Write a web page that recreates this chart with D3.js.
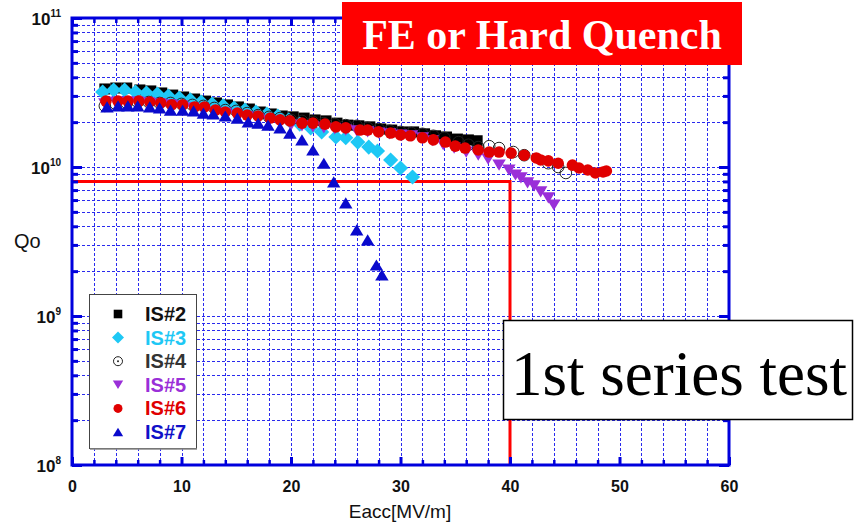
<!DOCTYPE html>
<html>
<head>
<meta charset="utf-8">
<script src="https://cdn.jsdelivr.net/npm/d3@7"></script>
<style>
  html, body { margin: 0; padding: 0; background: #fff; }
  svg { display: block; }
</style>
</head>
<body>
<svg id="chart" width="855" height="525"></svg>
<script>
// Qo values are stored in units of 1e10
const QUNIT = 1e10;

const seriesNames = ["IS#2", "IS#3", "IS#4", "IS#5", "IS#6", "IS#7"];

const e_IS2 = [3.0,4.0,5.0,6.2,7.2,8.2,9.2,10.2,11.2,12.2,13.2,14.2,15.2,16.2,17.2,18.2,19.2,20.2,21.2,22.2,23.2,24.2,25.2,26.2,27.2,28.2,29.2,30.2,31.2,32.2,33.2,34.2,35.2,36.2,37.0];
const q_IS2 = [3.34,3.39,3.39,3.29,3.24,3.14,3.04,2.95,2.86,2.77,2.69,2.61,2.53,2.45,2.34,2.27,2.20,2.17,2.13,2.07,2.04,1.97,1.91,1.89,1.86,1.80,1.77,1.72,1.72,1.67,1.62,1.59,1.54,1.52,1.50];

const e_IS3 = [2.8,3.8,4.8,5.8,6.8,7.8,8.8,9.8,10.8,11.8,12.8,13.8,14.8,15.8,16.8,17.8,18.8,19.8,20.8,21.8,22.8,24.1,25.0,26.1,27.1,27.9,29.1,30.0,31.1];
const q_IS3 = [3.19,3.29,3.29,3.19,3.14,3.09,2.99,2.90,2.82,2.73,2.65,2.57,2.49,2.41,2.34,2.27,2.20,2.07,1.94,1.83,1.72,1.59,1.57,1.47,1.36,1.28,1.115,0.985,0.857];

const e_IS4 = [3.0,4.0,5.0,6.0,7.0,8.0,9.0,10.0,11.0,12.0,13.0,14.0,15.0,16.0,17.0,18.0,19.0,20.0,21.0,22.0,23.0,24.0,25.0,26.0,27.0,28.0,29.0,30.0,31.0,32.0,33.0,34.0,35.3,36.2,37.1,38.1,39.0,40.3,41.3,43.5,44.4,45.1];
const q_IS4 = [2.57,2.65,2.69,2.73,2.73,2.69,2.69,2.65,2.61,2.57,2.49,2.41,2.38,2.30,2.23,2.17,2.13,2.07,2.04,2.01,1.97,1.94,1.91,1.89,1.83,1.80,1.75,1.72,1.69,1.67,1.62,1.57,1.47,1.41,1.36,1.38,1.34,1.26,1.20,1.06,1.00,0.912];

const e_IS5 = [3.0,4.0,5.0,6.0,7.0,8.0,9.0,10.0,11.0,12.0,13.0,14.0,15.0,16.0,17.0,18.0,19.0,20.0,21.0,22.0,23.0,24.0,25.0,26.0,27.0,28.0,29.0,30.0,31.0,32.0,32.9,33.9,34.9,36.0,37.1,38.0,39.0,39.9,40.5,41.0,41.6,42.2,42.8,43.5,44.0];
const q_IS5 = [2.65,2.73,2.73,2.73,2.69,2.65,2.61,2.57,2.49,2.41,2.34,2.30,2.23,2.17,2.10,2.04,1.97,1.91,1.89,1.86,1.83,1.80,1.77,1.75,1.72,1.69,1.67,1.64,1.62,1.57,1.50,1.41,1.34,1.26,1.20,1.13,1.03,0.955,0.884,0.844,0.782,0.746,0.680,0.620,0.556];

const e_IS6 = [3.1,4.2,5.1,6.1,7.1,8.1,9.1,10.1,11.2,12.1,13.1,14.0,15.1,16.0,17.0,18.1,19.0,19.9,21.0,22.0,23.1,24.1,25.0,26.3,27.0,28.0,29.1,30.0,30.9,32.0,33.0,34.1,35.0,35.9,37.1,38.1,39.0,40.1,41.3,42.4,42.8,43.5,44.4,45.7,46.3,47.1,47.8,48.5,48.8];
const q_IS6 = [2.77,2.77,2.77,2.77,2.73,2.69,2.61,2.61,2.53,2.53,2.41,2.34,2.30,2.23,2.20,2.13,2.07,2.04,1.97,1.97,1.94,1.86,1.83,1.77,1.77,1.72,1.69,1.64,1.62,1.57,1.52,1.47,1.38,1.34,1.30,1.26,1.26,1.24,1.20,1.15,1.115,1.10,1.06,1.03,0.985,0.955,0.912,0.926,0.940];

const e_IS7 = [3.2,4.2,5.1,6.0,7.1,8.0,9.0,10.1,11.1,12.0,12.9,14.0,15.1,16.1,17.0,17.9,19.0,19.9,21.0,22.0,23.0,23.9,25.0,26.0,27.0,27.8,28.3];
const q_IS7 = [2.53,2.57,2.57,2.57,2.53,2.49,2.41,2.41,2.38,2.30,2.27,2.20,2.13,2.01,1.97,1.91,1.83,1.69,1.52,1.30,1.06,0.794,0.574,0.378,0.324,0.220,0.189];

// Design target lines
const targetE = 40;
const targetQ = 8e9;

// Axis ticks
const xMajorTicks = [0, 10, 20, 30, 40, 50, 60];
const yDecades = [1e8, 1e9, 1e10, 1e11];

const titleText = "FE or Hard Quench";
const noteText = "1st series test";

// ---------------------------------------------------------------
const svg = d3.select("#chart");
const pL = 72, pR = 729, pT = 18, pB = 465;
const x = d3.scaleLinear().domain([0, 60]).range([pL, pR]);
const y = d3.scaleLog().domain([1e8, 1e11]).range([pB, pT]);

const AX = "#0000dd";
const GRID = "#2a2aee";

// grid
const xGrid = d3.range(2, 60, 2);
const yGrid = [];
[1e8, 1e9, 1e10].forEach(d => { for (let m = 1; m <= 9; m++) { const v = d * m; if (v > 1e8) yGrid.push(v); } });

const grid = svg.append("g");
grid.selectAll("line.vx").data(xGrid).join("line")
  .attr("x1", d => Math.round(x(d)) + 0.5).attr("x2", d => Math.round(x(d)) + 0.5)
  .attr("y1", pT).attr("y2", pB)
  .attr("stroke", GRID).attr("stroke-width", 1).attr("stroke-dasharray", "3,2");
grid.selectAll("line.hy").data(yGrid).join("line")
  .attr("x1", pL).attr("x2", pR)
  .attr("y1", d => Math.round(y(d)) + 0.5).attr("y2", d => Math.round(y(d)) + 0.5)
  .attr("stroke", GRID).attr("stroke-width", 1).attr("stroke-dasharray", "3,2");

// target lines
svg.append("path")
  .attr("d", `M${x(0)},${y(targetQ)}H${x(targetE)}V${y(1e8)}`)
  .attr("fill", "none").attr("stroke", "#ff0000").attr("stroke-width", 3);

// axes (inward ticks on all four sides)
function styleAxis(g, w) {
  g.select(".domain").remove();
  g.selectAll(".tick line").attr("stroke", AX).attr("stroke-width", w);
}
const xMinor = d3.range(0, 61, 2).filter(d => d % 10 !== 0);
const yMinor = yGrid.filter(v => !yDecades.includes(v));

const fontSans = "'Liberation Sans', Arial, sans-serif";
const fontSerif = "'Liberation Serif', 'Times New Roman', serif";

const gxB = svg.append("g").attr("transform", `translate(0,${pB})`)
  .call(d3.axisBottom(x).tickValues(xMajorTicks).tickSize(-8).tickPadding(16).tickFormat(d3.format("d")));
styleAxis(gxB, 3);
gxB.selectAll(".tick text").attr("fill", "#111").attr("font-family", fontSans)
  .attr("font-weight", "bold").attr("font-size", 16);
svg.append("g").attr("transform", `translate(0,${pB})`)
  .call(d3.axisBottom(x).tickValues(xMinor).tickSize(-5).tickFormat("")).call(g => styleAxis(g, 2.5));
svg.append("g").attr("transform", `translate(0,${pT})`)
  .call(d3.axisTop(x).tickValues(xMajorTicks).tickSize(-8).tickFormat("")).call(g => styleAxis(g, 3));
svg.append("g").attr("transform", `translate(0,${pT})`)
  .call(d3.axisTop(x).tickValues(xMinor).tickSize(-5).tickFormat("")).call(g => styleAxis(g, 2.5));

svg.append("g").attr("transform", `translate(${pL},0)`)
  .call(d3.axisLeft(y).tickValues(yDecades).tickSize(-10).tickFormat("")).call(g => styleAxis(g, 3));
svg.append("g").attr("transform", `translate(${pL},0)`)
  .call(d3.axisLeft(y).tickValues(yMinor).tickSize(-6).tickFormat("")).call(g => styleAxis(g, 3));
svg.append("g").attr("transform", `translate(${pR},0)`)
  .call(d3.axisRight(y).tickValues(yDecades).tickSize(-10).tickFormat("")).call(g => styleAxis(g, 3));
svg.append("g").attr("transform", `translate(${pR},0)`)
  .call(d3.axisRight(y).tickValues(yMinor).tickSize(-6).tickFormat("")).call(g => styleAxis(g, 3));

// power-of-ten labels
const yLab = svg.append("g");
yDecades.forEach(v => {
  const t = yLab.append("text").attr("x", 61).attr("y", y(v) + 7)
    .attr("text-anchor", "end").attr("font-family", fontSans).attr("font-weight", "bold").attr("fill", "#111");
  t.append("tspan").attr("font-size", 17).text("10");
  t.append("tspan").attr("font-size", 10).attr("dy", -8).text(Math.round(Math.log10(v)));
});

// frame
svg.append("rect").attr("x", pL).attr("y", pT).attr("width", pR - pL).attr("height", pB - pT)
  .attr("fill", "none").attr("stroke", AX).attr("stroke-width", 3);

// axis titles
svg.append("text").attr("x", 400).attr("y", 518).attr("text-anchor", "middle")
  .attr("font-family", fontSans).attr("font-size", 19).attr("fill", "#111").text("Eacc[MV/m]");
svg.append("text").attr("x", 14).attr("y", 248)
  .attr("font-family", fontSans).attr("font-size", 20).attr("fill", "#111").text("Qo");

// marker shapes
function shapePath(kind, s) {
  switch (kind) {
    case "square": return `M${-s},${-s}H${s}V${s}H${-s}Z`;
    case "diamond": { const r = s * 1.4; return `M0,${-r}L${r},0L0,${r}L${-r},0Z`; }
    case "down": { const w = s * 1.2, h = s; return `M${-w},${-h}H${w}L0,${h}Z`; }
    case "up": { const w = s * 1.2, h = s; return `M${-w},${h}H${w}L0,${-h}Z`; }
  }
}

const series = [
  { name: seriesNames[0], e: e_IS2, q: q_IS2, kind: "square", size: 5.5, fill: "#000000", stroke: "none", text: "#111111" },
  { name: seriesNames[1], e: e_IS3, q: q_IS3, kind: "diamond", size: 5.4, fill: "#1ec8f5", stroke: "none", text: "#1ec8f5" },
  { name: seriesNames[2], e: e_IS4, q: q_IS4, kind: "ring", size: 5.8, fill: "none", stroke: "#222222", text: "#333333" },
  { name: seriesNames[3], e: e_IS5, q: q_IS5, kind: "down", size: 5.6, fill: "#9a2fd8", stroke: "none", text: "#9a2fd8" },
  { name: seriesNames[4], e: e_IS6, q: q_IS6, kind: "dot", size: 5.8, fill: "#e00000", stroke: "none", text: "#e00000" },
  { name: seriesNames[5], e: e_IS7, q: q_IS7, kind: "up", size: 5.6, fill: "#0a0acc", stroke: "none", text: "#1010c8" }
];

function drawMarker(g, s, px, py, size, legend) {
  if (s.kind === "ring") {
    g.append("circle").attr("cx", px).attr("cy", py).attr("r", size)
      .attr("fill", "none").attr("stroke", s.stroke).attr("stroke-width", 1);
    if (legend) g.append("circle").attr("cx", px).attr("cy", py).attr("r", 1).attr("fill", s.stroke);
  } else if (s.kind === "dot") {
    g.append("circle").attr("cx", px).attr("cy", py).attr("r", size).attr("fill", s.fill);
  } else {
    g.append("path").attr("transform", `translate(${px},${py})`).attr("d", shapePath(s.kind, size))
      .attr("fill", s.fill);
  }
}

const marks = svg.append("g");
series.forEach(s => {
  const g = marks.append("g");
  s.e.forEach((ev, i) => drawMarker(g, s, x(ev), y(s.q[i] * QUNIT), s.size, false));
});

// legend
const lg = svg.append("g");
lg.append("rect").attr("x", 89.5).attr("y", 294.5).attr("width", 107).attr("height", 154)
  .attr("fill", "#fff").attr("stroke", "#444").attr("stroke-width", 1);
lg.append("line").attr("x1", 90).attr("x2", 197).attr("y1", 449).attr("y2", 449).attr("stroke", "#888").attr("stroke-width", 1.5);
series.forEach((s, i) => {
  const cy = 314 + i * 23.6;
  drawMarker(lg, s, 118, cy, s.kind === "dot" || s.kind === "ring" ? 4.5 : 4.3, true);
  lg.append("text").attr("x", 145).attr("y", cy + 7).attr("font-family", fontSans).attr("font-weight", "bold")
    .attr("font-size", 20).attr("fill", s.text).text(s.name);
});

// banner
svg.append("rect").attr("x", 342).attr("y", 2).attr("width", 400).attr("height", 63).attr("fill", "#ff0000");
svg.append("text").attr("x", 542).attr("y", 49).attr("text-anchor", "middle")
  .attr("font-family", fontSerif).attr("font-weight", "bold").attr("font-size", 42).attr("fill", "#fff").text(titleText);

// note box
svg.append("rect").attr("x", 503.5).attr("y", 320.5).attr("width", 349).attr("height", 99)
  .attr("fill", "#fff").attr("stroke", "#000").attr("stroke-width", 1.5);
svg.append("text").attr("x", 679).attr("y", 395).attr("text-anchor", "middle")
  .attr("font-family", fontSerif).attr("font-size", 63).attr("fill", "#000").text(noteText);
</script>
</body>
</html>
